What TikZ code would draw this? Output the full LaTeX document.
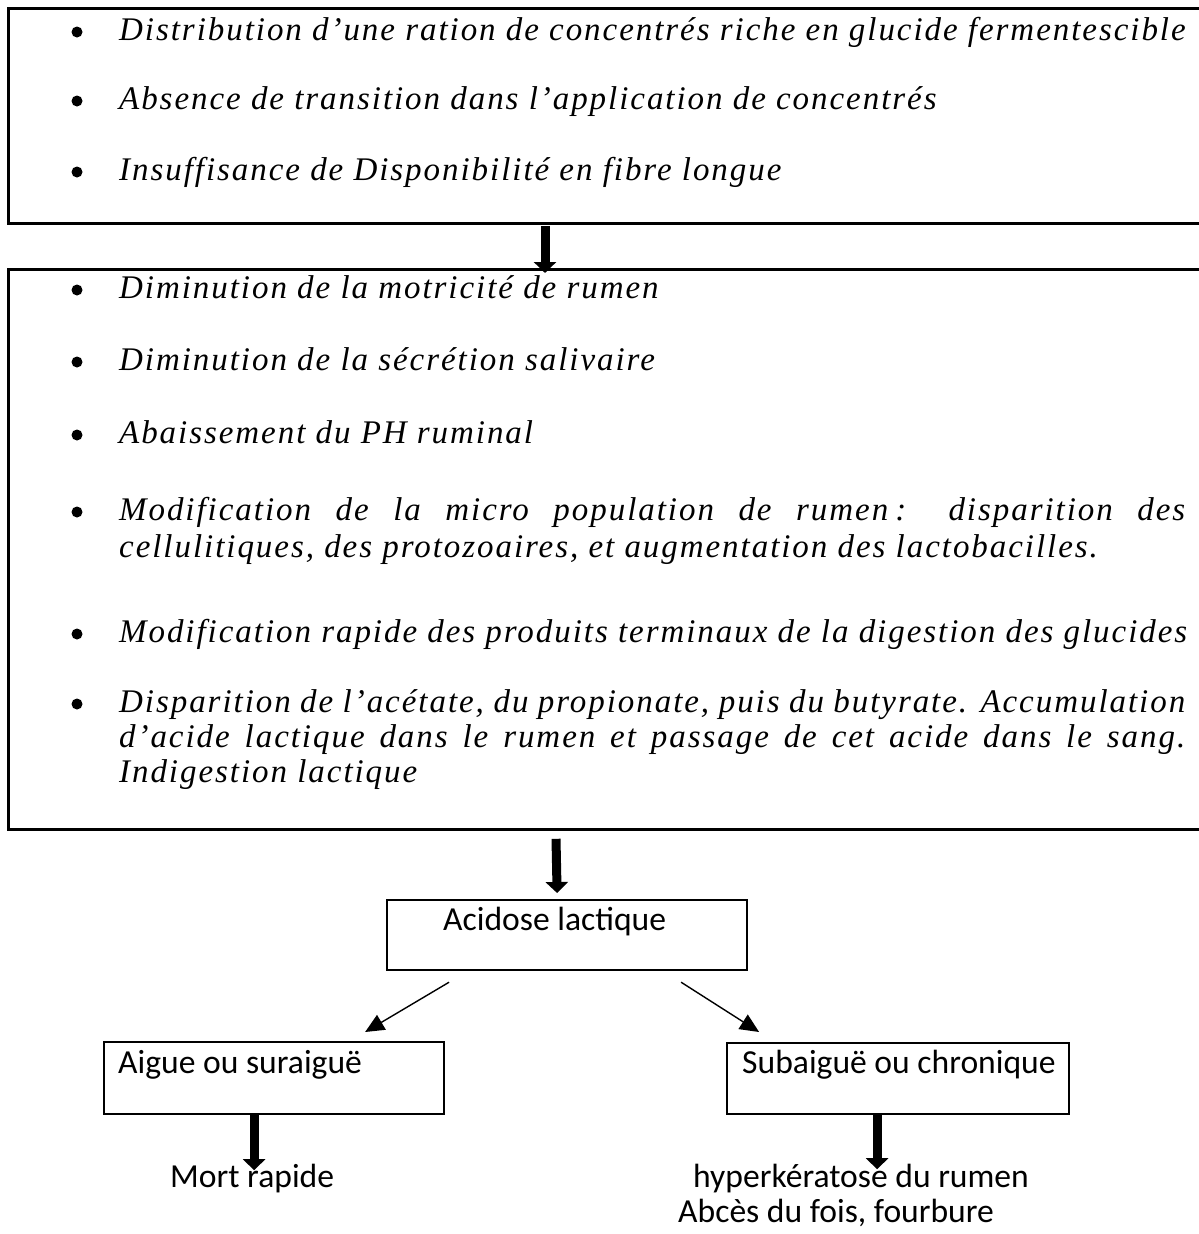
\documentclass[tikz,border=0pt]{standalone}
\usepackage{fontspec}
\setmainfont{Carlito}
\newfontfamily\itemfont[LetterSpace=5.9]{Liberation Serif}
\usetikzlibrary{arrows.meta,calc}
\tikzset{
  frame/.style={draw, line width=2.8pt, anchor=north west, inner sep=0pt},
  box/.style={draw, line width=2.2pt, anchor=north west, inner sep=0pt},
  item/.style={anchor=base west, inner sep=0pt,
              font=\itemfont\itshape\fontsize{33}{38}\selectfont},
  plain/.style={anchor=base west, inner sep=0pt, font=\fontsize{33.6}{40}\selectfont},
  dot/.style={circle, fill, inner sep=0pt, minimum size=11pt},
  bigarrow/.style={line width=9pt, -{Triangle[width=22pt,length=11pt]}},
  thinarrow/.style={line width=1.4pt, -{Triangle[width=17pt,length=19pt]}},
}

\begin{document}
\begin{tikzpicture}[x=1pt,y=-1pt]
  \useasboundingbox (0,0) rectangle (1199,1234);

  % causes
  \node[frame, minimum width=1230pt, minimum height=215pt] (causes) at (7,7) {};
  \node[item] (c1) at (119,40) {Distribution d’une ration de concentrés riche en glucide fermentescible};
  \node[item] (c2) at (119,109) {Absence de transition dans l’application de concentrés};
  \node[item] (c3) at (119,180) {Insuffisance de Disponibilité en fibre longue};

  % effects in the rumen
  \node[frame, minimum width=1230pt, minimum height=560pt] (effects) at (7,268) {};
  \node[item] (e1) at (119,298) {Diminution de la motricité de rumen};
  \node[item] (e2) at (119,370) {Diminution de la sécrétion salivaire};
  \node[item] (e3) at (119,443) {Abaissement du PH ruminal};
  \node[item] (e4a) at (119,520) {\makebox[1066pt][s]{Modification de la micro population de rumen\hspace{7pt}: disparition des}};
  \node[item] (e4b) at (119,557) {cellulitiques, des protozoaires, et augmentation des lactobacilles.};
  \node[item] (e5) at (119,642) {Modification rapide des produits terminaux de la digestion des glucides};
  \node[item] (e6a) at (119,712) {\makebox[1066pt][s]{Disparition de l’acétate, du propionate, puis du butyrate. Accumulation}};
  \node[item] (e6b) at (119,747) {\makebox[1066pt][s]{d’acide lactique dans le rumen et passage de cet acide dans le sang.}};
  \node[item] (e6c) at (119,782) {Indigestion lactique};

  \foreach \y in {32,101,172,290,362,435,512,634,704}
    \node[dot] (b\y) at (77,\y) {};

  % outcome
  \node[box, minimum width=360pt, minimum height=70pt] (acid) at (386,899) {};
  \node[plain] (acidtxt) at (443,930) {Acidose lactique};
  \node[box, minimum width=340pt, minimum height=72pt] (acute) at (103,1041) {};
  \node[plain] (acutetxt) at (118,1073) {Aigue ou suraiguë};
  \node[box, minimum width=342pt, minimum height=71pt] (chronic) at (726,1042) {};
  \node[plain] (chronictxt) at (742,1073) {Subaiguë ou chronique};
  \node[plain] (death) at (170,1187) {Mort rapide};
  \node[plain] (hyper) at (693,1187) {hyperkératose du rumen};
  \node[plain] (abces) at (678,1222) {Abcès du fois, fourbure};

  % arrows
  \draw[bigarrow] ($(causes.south west)+(538,1)$) -- ($(effects.north west)+(538,5)$);
  \draw[bigarrow] ($(effects.south west)+(549,8)$) -- ($(acid.north)+(-10,-6)$);
  \draw[thinarrow] ($(acid.south)+(-118,11)$) -- ($(acute.north)+(91,-9)$);
  \draw[thinarrow] ($(acid.south)+(114,11)$) -- ($(chronic.north)+(-139,-10)$);
  \draw[bigarrow] ($(acute.south)+(-20,0)$) -- ($(acute.south)+(-20,55)$);
  \draw[bigarrow] ($(chronic.south)+(-21,0)$) -- ($(chronic.south)+(-21,54)$);
\end{tikzpicture}
\end{document}
